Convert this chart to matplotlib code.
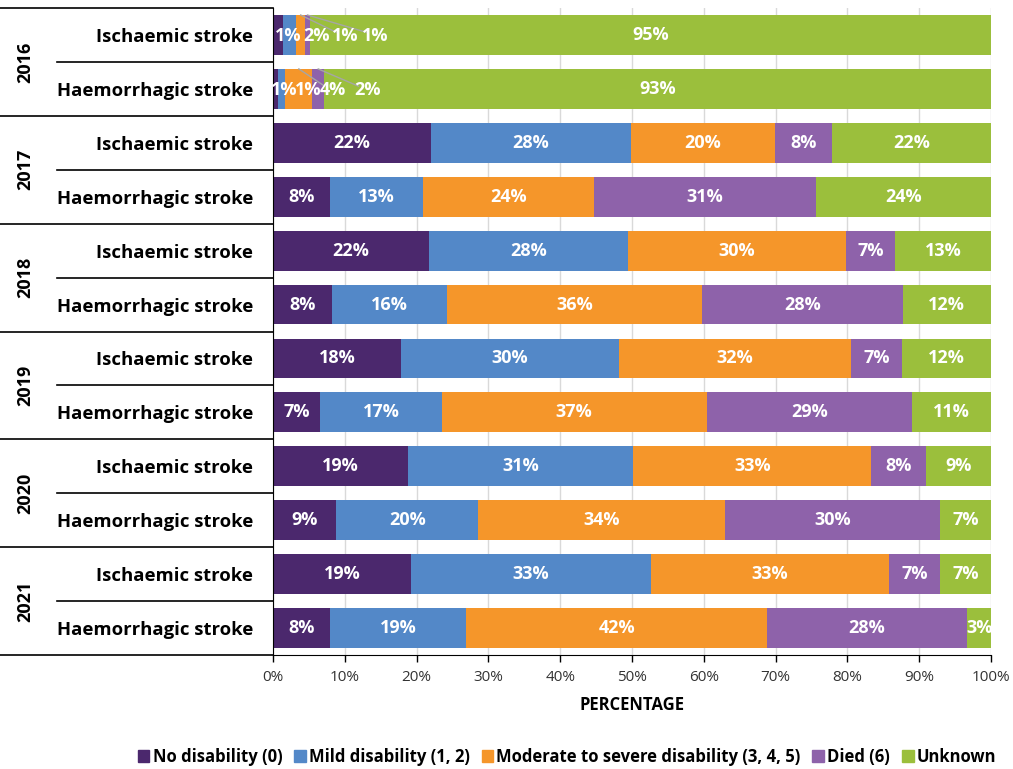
import numpy as np
import matplotlib.pyplot as plt
from matplotlib.patches import Patch

plt.rcParams['font.family'] = ['Open Sans', 'DejaVu Sans']

# Data (percent of patients)
years = ['2016', '2017', '2018', '2019', '2020', '2021']
stroke_types = ['Ischaemic stroke', 'Haemorrhagic stroke']
categories = ['No disability (0)', 'Mild disability (1, 2)',
              'Moderate to severe disability (3, 4, 5)', 'Died (6)', 'Unknown']
colors = ['#4b286d', '#5388c8', '#f5962a', '#8e62aa', '#9bbf3c']

no_disability = [1.4, 0.7, 22.0, 7.9, 21.7, 8.2, 17.8, 6.6, 18.8, 8.8, 19.2, 7.9]
mild = [1.8, 1.0, 27.9, 13.0, 27.7, 16.0, 30.4, 16.9, 31.4, 19.8, 33.4, 19.0]
moderate = [1.3, 3.8, 20.0, 23.8, 30.4, 35.6, 32.3, 36.9, 33.1, 34.4, 33.2, 41.9]
died = [0.6, 1.6, 8.0, 30.9, 6.8, 27.9, 7.1, 28.6, 7.6, 29.9, 7.1, 27.9]
unknown = [94.9, 92.9, 22.1, 24.4, 13.4, 12.3, 12.4, 11.0, 9.1, 7.1, 7.1, 3.3]

series = [no_disability, mild, moderate, died, unknown]

# label positions (x, %) for the tiny 2016 segments
small_label_x = {0: [2.1, 6.1, 10.0, 14.2], 1: [1.5, 4.9, 8.4, 13.1]}

fig = plt.figure(figsize=(10.13, 7.69), dpi=100)
ax = fig.add_axes([273 / 1013, 1 - 655 / 769, 718 / 1013, 647 / 769])

n_rows = len(years) * len(stroke_types)
ypos = np.arange(n_rows)
left = np.zeros(n_rows)
for vals, col in zip(series, colors):
    vals = np.array(vals)
    ax.barh(ypos, vals, left=left, height=0.74, color=col, zorder=2)
    for i in range(n_rows):
        if i in small_label_x:
            continue
        ax.text(left[i] + vals[i] / 2, ypos[i], f'{round(vals[i])}%', ha='center', va='center',
                color='white', fontsize=13, fontweight='bold', zorder=4)
    left += vals

# 2016 rows: small segments labelled off to the side with leader lines
for i, xs in small_label_x.items():
    start = 0
    for k in range(4):
        v = series[k][i]
        ax.text(xs[k], ypos[i] + 0.02, f'{round(v)}%', ha='center', va='center',
                color='white', fontsize=13, fontweight='bold', zorder=4)
        mid = start + v / 2
        if k >= 2:
            ax.plot([mid, xs[k] - 1.2], [ypos[i] - 0.37, ypos[i] - 0.05], color='#a6a6a6', lw=1, zorder=3)
        start += v
# unknown share for 2016 rows
for i in small_label_x:
    v = unknown[i]
    s = 100 - v
    ax.text(s + v / 2, ypos[i], f'{round(v)}%', ha='center', va='center',
            color='white', fontsize=13, fontweight='bold', zorder=4)

ax.set_xlim(0, 100)
ax.set_ylim(n_rows - 0.5, -0.5)
ax.set_xticks(np.arange(0, 101, 10))
ax.set_xticklabels([f'{t}%' for t in range(0, 101, 10)], fontsize=11, color='#333333')
ax.tick_params(axis='x', length=5, width=1, direction='out', color='black', pad=6)
ax.grid(axis='x', color='#d9d9d9', lw=1, zorder=0)
ax.set_yticks(ypos)
ax.set_yticklabels(stroke_types * len(years), fontsize=13.3, fontweight='bold')
ax.tick_params(axis='y', length=0, pad=14.5)
ax.spines['top'].set_visible(False)
ax.spines['right'].set_visible(False)
ax.set_xlabel('PERCENTAGE', fontsize=12, fontweight='bold', labelpad=8)

# hierarchical row table on the left
x_full = -273 / 718
x_sub = -(273 - 57) / 718
for g in range(len(years) + 1):
    y = g * 2 - 0.5
    ax.plot([x_full, 0], [y, y], transform=ax.get_yaxis_transform(), color='black',
            lw=1.2, clip_on=False)
for g, yr in enumerate(years):
    y = g * 2 + 0.5
    ax.plot([x_sub, 0], [y, y], transform=ax.get_yaxis_transform(), color='black',
            lw=1.2, clip_on=False)
    ax.text(-(273 - 25) / 718, g * 2 + 0.5, yr, transform=ax.get_yaxis_transform(),
            rotation=90, ha='center', va='center', fontsize=13, fontweight='bold')

handles = [Patch(color=c, label=l) for c, l in zip(colors, categories)]
leg = fig.legend(handles=handles, loc='center', bbox_to_anchor=(567 / 1013, 1 - 757 / 769),
                 ncol=5, frameon=False, handlelength=0.7, handleheight=0.7,
                 handletextpad=0.2, columnspacing=0.7, prop={'weight': 'bold', 'size': 12})

fig.savefig('out.png', dpi=100)
